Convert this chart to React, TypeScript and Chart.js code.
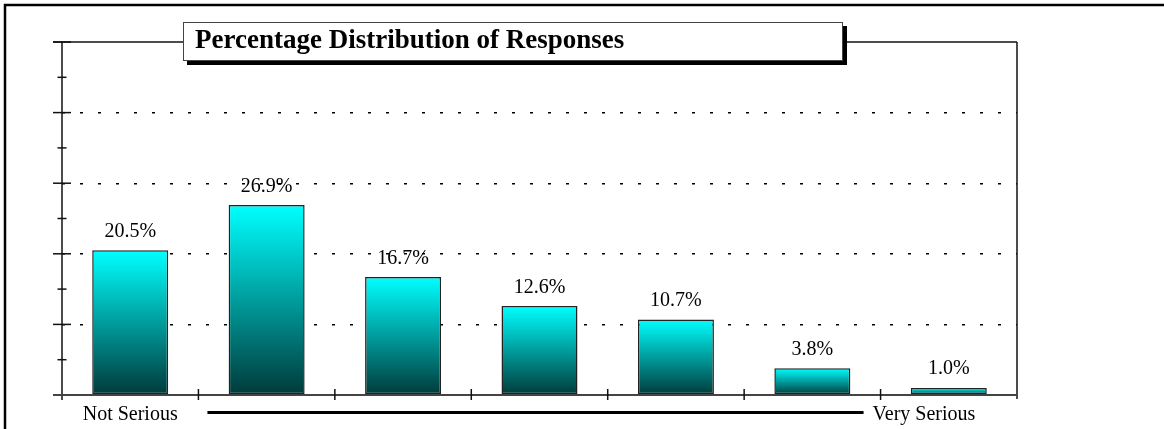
import React, { useEffect, useRef } from "react";
import { Chart, registerables } from "chart.js";

Chart.register(...registerables);

// ---- data ----
const categories = ["1", "2", "3", "4", "5", "6", "7"];
const percentages = [20.5, 26.9, 16.7, 12.6, 10.7, 3.8, 1.0];
const majorTicks = [0, 10, 20, 30, 40, 50];
const minorTicks = [5, 15, 25, 35, 45];
const titleText = "Percentage Distribution of Responses";
const lowLabel = "Not Serious";
const highLabel = "Very Serious";

const SERIF = '"Liberation Serif", "Times New Roman", serif';

function line(ctx: CanvasRenderingContext2D, x1: number, y1: number, x2: number, y2: number) {
  ctx.beginPath();
  ctx.moveTo(x1, y1);
  ctx.lineTo(x2, y2);
  ctx.stroke();
}

const decorPlugin = {
  id: "decor",
  afterDraw(chart: any) {
    const ctx: CanvasRenderingContext2D = chart.ctx;
    const a = chart.chartArea;
    const xs = chart.scales.x;
    const ys = chart.scales.y;
    const L = a.left, R = a.right, T = a.top, B = a.bottom;
    ctx.save();
    ctx.setLineDash([]);

    // outer frame (top + left)
    ctx.strokeStyle = "#000";
    ctx.lineWidth = 2.5;
    ctx.beginPath();
    ctx.moveTo(5, chart.height);
    ctx.lineTo(5, 5);
    ctx.lineTo(chart.width, 5);
    ctx.stroke();

    // plot top & right border, left axis
    ctx.strokeStyle = "#111";
    ctx.lineWidth = 1.5;
    line(ctx, L - 9, T, R, T);
    line(ctx, R, T, R, B + 4);
    line(ctx, L, T, L, B + 5);

    // y ticks
    majorTicks.forEach((v) => {
      const py = ys.getPixelForValue(v);
      line(ctx, L - 9, py, L + 9, py);
    });
    minorTicks.forEach((v) => {
      const py = ys.getPixelForValue(v);
      line(ctx, L - 4.5, py, L + 4.5, py);
    });

    // bottom axis
    ctx.strokeStyle = "#444";
    ctx.lineWidth = 2;
    line(ctx, L - 9, B, R, B);

    // x ticks at category boundaries
    ctx.strokeStyle = "#111";
    ctx.lineWidth = 1.5;
    const bounds: number[] = [];
    for (let i = 1; i < categories.length; i++) {
      const xb = (xs.getPixelForValue(i - 1) + xs.getPixelForValue(i)) / 2;
      bounds.push(xb);
      line(ctx, xb, B - 6, xb, B + 5);
    }

    // value labels
    ctx.fillStyle = "#000";
    ctx.font = `20px ${SERIF}`;
    ctx.textAlign = "center";
    ctx.textBaseline = "alphabetic";
    percentages.forEach((v, i) => {
      const px = xs.getPixelForValue(i);
      const py = ys.getPixelForValue(v);
      ctx.fillText(v.toFixed(1) + "%", px, py - 13.5);
    });

    // scale captions
    const capY = B + 25;
    ctx.fillText(lowLabel, xs.getPixelForValue(0), capY);
    const lineStart = bounds[0] + 9;
    const lineEnd = bounds[bounds.length - 1] - 17;
    ctx.strokeStyle = "#000";
    ctx.lineWidth = 3;
    line(ctx, lineStart, B + 17.5, lineEnd, B + 17.5);
    ctx.textAlign = "left";
    ctx.fillText(highLabel, lineEnd + 9, capY);

    // title box with shadow
    const bx = 183, by = 22, bw = 660, bh = 39;
    ctx.fillStyle = "#000";
    ctx.fillRect(bx + 4, by + 4, bw, bh);
    ctx.fillStyle = "#fff";
    ctx.fillRect(bx, by, bw, bh);
    ctx.strokeStyle = "#444";
    ctx.lineWidth = 1;
    ctx.strokeRect(bx + 0.5, by + 0.5, bw - 1, bh - 1);
    ctx.fillStyle = "#000";
    ctx.font = `bold 27px ${SERIF}`;
    ctx.textAlign = "left";
    ctx.fillText(titleText, bx + 12, 48);

    ctx.restore();
  },
};

export default function App() {
  const canvasRef = useRef<HTMLCanvasElement | null>(null);

  useEffect(() => {
    const canvas = canvasRef.current;
    if (!canvas) return;
    const chart = new Chart(canvas, {
      type: "bar",
      data: {
        labels: categories,
        datasets: [
          {
            data: percentages,
            backgroundColor: (c: any) => {
              const ys = c.chart.scales && c.chart.scales.y;
              if (!ys || c.type !== "data" || c.raw == null) return "#00b0b0";
              const top = ys.getPixelForValue(c.raw as number);
              const base = ys.getPixelForValue(0);
              if (!isFinite(top) || !isFinite(base) || top === base) return "#00b0b0";
              const g = c.chart.ctx.createLinearGradient(0, top, 0, base);
              g.addColorStop(0, "#00ffff");
              g.addColorStop(1, "#003a3a");
              return g;
            },
            borderColor: "#222",
            borderWidth: 1.5,
            borderSkipped: false,
            barPercentage: 0.557,
            categoryPercentage: 1,
          },
        ],
      },
      options: {
        animation: false,
        responsive: false,
        devicePixelRatio: 1,
        layout: { padding: { left: 62, top: 42, right: 147, bottom: 34 } },
        plugins: {
          legend: { display: false },
          tooltip: { enabled: false },
          title: { display: false },
        },
        scales: {
          x: {
            display: false,
            offset: true,
          },
          y: {
            display: true,
            min: 0,
            max: 50,
            ticks: { display: false, stepSize: 10 },
            border: { display: false, dash: [3, 15], dashOffset: 0 },
            grid: {
              drawTicks: false,
              tickLength: 0,
              lineWidth: 1.4,
              color: (c: any) =>
                c.tick && (c.tick.value === 0 || c.tick.value === 50) ? "rgba(0,0,0,0)" : "#000",
            },
          },
        },
      },
      plugins: [decorPlugin],
    });
    return () => chart.destroy();
  }, []);

  return (
    <div style={{ position: "absolute", left: 0, top: 0, width: 1164, height: 429, background: "#fff" }}>
      <canvas ref={canvasRef} width={1164} height={429} style={{ display: "block" }} />
    </div>
  );
}
